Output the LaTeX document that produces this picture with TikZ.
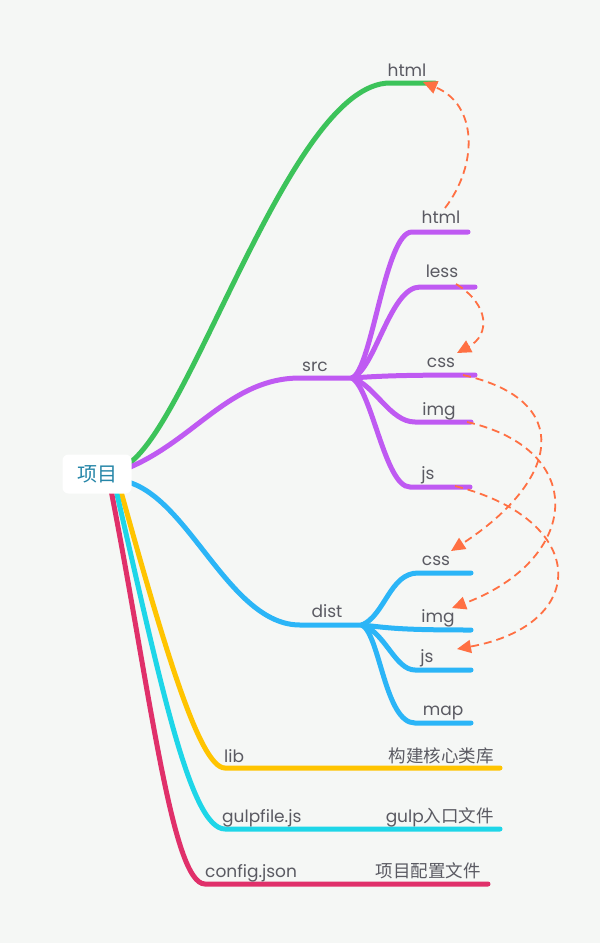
\documentclass[tikz,border=0pt]{standalone}
\usepackage{fontspec}
\setmainfont{Poppins}
\newfontfamily\cjk{Noto Sans CJK SC}
\usepackage{xcolor}
\usepackage{tikz}
\usetikzlibrary{arrows.meta,positioning,calc}

\definecolor{bgcol}{HTML}{F5F7F5}
\definecolor{labelgray}{HTML}{5A5A62}
\definecolor{roottext}{HTML}{2686A8}
\definecolor{brgreen}{HTML}{3CC35A}
\definecolor{brpurple}{HTML}{BF5AF2}
\definecolor{brblue}{HTML}{2BB5F7}
\definecolor{bryellow}{HTML}{FFC400}
\definecolor{brcyan}{HTML}{1ED6E8}
\definecolor{brpink}{HTML}{E0306A}
\definecolor{linkorange}{HTML}{FF7043}

\begin{document}
\begin{tikzpicture}[x=1pt,y=-1pt,
  branch/.style={line width=5pt,line cap=round},
  lbl/.style={anchor=base,text=labelgray,inner sep=0pt,font=\fontsize{17}{20}\selectfont},
  cjklbl/.style={lbl,font=\cjk\fontsize{17.5}{20}\selectfont},
  link/.style={draw=linkorange,line width=1.8pt,dash pattern=on 8pt off 5pt,
    -{Triangle[length=14pt,width=13pt]}},
]
\useasboundingbox (0,0) rectangle (600,943);
\fill[bgcol] (0,0) rectangle (600,943);

% start points behind the root box
\coordinate (rootG) at (125,466);
\coordinate (rootP) at (128,468);
\coordinate (rootB) at (128,482);
\coordinate (rootY) at (120,488);
\coordinate (rootC) at (116,490);
\coordinate (rootK) at (111,490);

% hubs
\coordinate (srcHub) at (352,378);
\coordinate (distHub) at (362,625);

% top html
\coordinate (htmlA) at (390,83);
\coordinate (htmlB) at (435,83);
\draw[branch,brgreen] (rootG) .. controls (190,430) and (290,83) .. (htmlA) -- (htmlB);

% src
\draw[branch,brpurple] (rootP) .. controls (195,440) and (230,378) .. (300,378) -- (srcHub);
\coordinate (sHtmlA) at (412,232);  \coordinate (sHtmlB) at (468,232);
\coordinate (sLessA) at (420,287);  \coordinate (sLessB) at (475,287);
\coordinate (sCssB) at (475,375);
\coordinate (sImgA) at (415,422);   \coordinate (sImgB) at (471,422);
\coordinate (sJsA) at (410,487);    \coordinate (sJsB) at (470,487);
\draw[branch,brpurple] (srcHub) .. controls (372,370) and (385,232) .. (sHtmlA) -- (sHtmlB);
\draw[branch,brpurple] (srcHub) .. controls (375,370) and (390,287) .. (sLessA) -- (sLessB);
\draw[branch,brpurple] (srcHub) .. controls (380,376) and (400,375) .. (sCssB);
\draw[branch,brpurple] (srcHub) .. controls (375,385) and (390,422) .. (sImgA) -- (sImgB);
\draw[branch,brpurple] (srcHub) .. controls (372,390) and (385,487) .. (sJsA) -- (sJsB);

% dist
\draw[branch,brblue] (rootB) .. controls (190,500) and (230,625) .. (300,625) -- (distHub);
\coordinate (dCssA) at (418,573);   \coordinate (dCssB) at (471,573);
\coordinate (dImgB) at (471,630);
\coordinate (dJsA) at (415,670);    \coordinate (dJsB) at (471,670);
\coordinate (dMapA) at (415,723);   \coordinate (dMapB) at (471,723);
\draw[branch,brblue] (distHub) .. controls (385,615) and (390,573) .. (dCssA) -- (dCssB);
\draw[branch,brblue] (distHub) .. controls (390,628) and (400,630) .. (dImgB);
\draw[branch,brblue] (distHub) .. controls (385,632) and (395,670) .. (dJsA) -- (dJsB);
\draw[branch,brblue] (distHub) .. controls (380,635) and (385,723) .. (dMapA) -- (dMapB);

% lib, gulpfile.js, config.json
\coordinate (libA) at (225,768);    \coordinate (libB) at (500,768);
\coordinate (gulpA) at (225,829);   \coordinate (gulpB) at (500,829);
\coordinate (confA) at (205,884);   \coordinate (confB) at (488,884);
\draw[branch,bryellow] (rootY) .. controls (165,650) and (200,768) .. (libA) -- (libB);
\draw[branch,brcyan] (rootC) .. controls (160,680) and (190,829) .. (gulpA) -- (gulpB);
\draw[branch,brpink] (rootK) .. controls (150,690) and (172,884) .. (confA) -- (confB);

% dashed links
\coordinate (l1s) at (445,208);  \coordinate (l1e) at (423,82);
\coordinate (l2s) at (456,284);  \coordinate (l2e) at (457,353);
\coordinate (l3s) at (463,375);  \coordinate (l3e) at (451,551);
\coordinate (l4s) at (467,422);  \coordinate (l4e) at (452,608);
\coordinate (l5s) at (455,486);  \coordinate (l5e) at (457,649);
\draw[link] (l1s) .. controls (478,165) and (478,105) .. (l1e);
\draw[link] (l2s) .. controls (490,305) and (490,335) .. (l2e);
\draw[link] (l3s) .. controls (575,400) and (560,480) .. (l3e);
\draw[link] (l4s) .. controls (590,450) and (580,560) .. (l4e);
\draw[link] (l5s) .. controls (590,520) and (590,625) .. (l5e);

% root
\node[fill=white,rounded corners=6pt,minimum width=69pt,minimum height=39pt,
  text=roottext,font=\cjk\fontsize{20}{22}\selectfont] (root) at (97,474) {项目};

% labels
\node[lbl] (tHtml) at (407,76) {html};
\node[lbl] (tSrc) at (315,371) {src};
\node[lbl] (tSHtml) at (441,223) {html};
\node[lbl] (tSLess) at (442,277) {less};
\node[lbl] (tSCss) at (441,367) {css};
\node[lbl] (tSImg) at (439,415) {img};
\node[lbl] (tSJs) at (428,479) {js};
\node[lbl] (tDist) at (327,617) {dist};
\node[lbl] (tDCss) at (436,565) {css};
\node[lbl] (tDImg) at (438,622) {img};
\node[lbl] (tDJs) at (427,662) {js};
\node[lbl] (tDMap) at (443,715) {map};
\node[lbl,anchor=base west] (tLib) at (224,762) {lib};
\node[cjklbl,anchor=base east] (tLibNote) at (494,762) {构建核心类库};
\node[lbl,anchor=base west] (tGulp) at (222,822) {gulpfile.js};
\node[lbl,anchor=base east] (tGulpNote) at (494,822) {gulp{\cjk\fontsize{17.5}{20}\selectfont 入口文件}};
\node[lbl,anchor=base west] (tConf) at (205,877) {config.json};
\node[cjklbl,anchor=base east] (tConfNote) at (481,877) {项目配置文件};
\end{tikzpicture}
\end{document}
